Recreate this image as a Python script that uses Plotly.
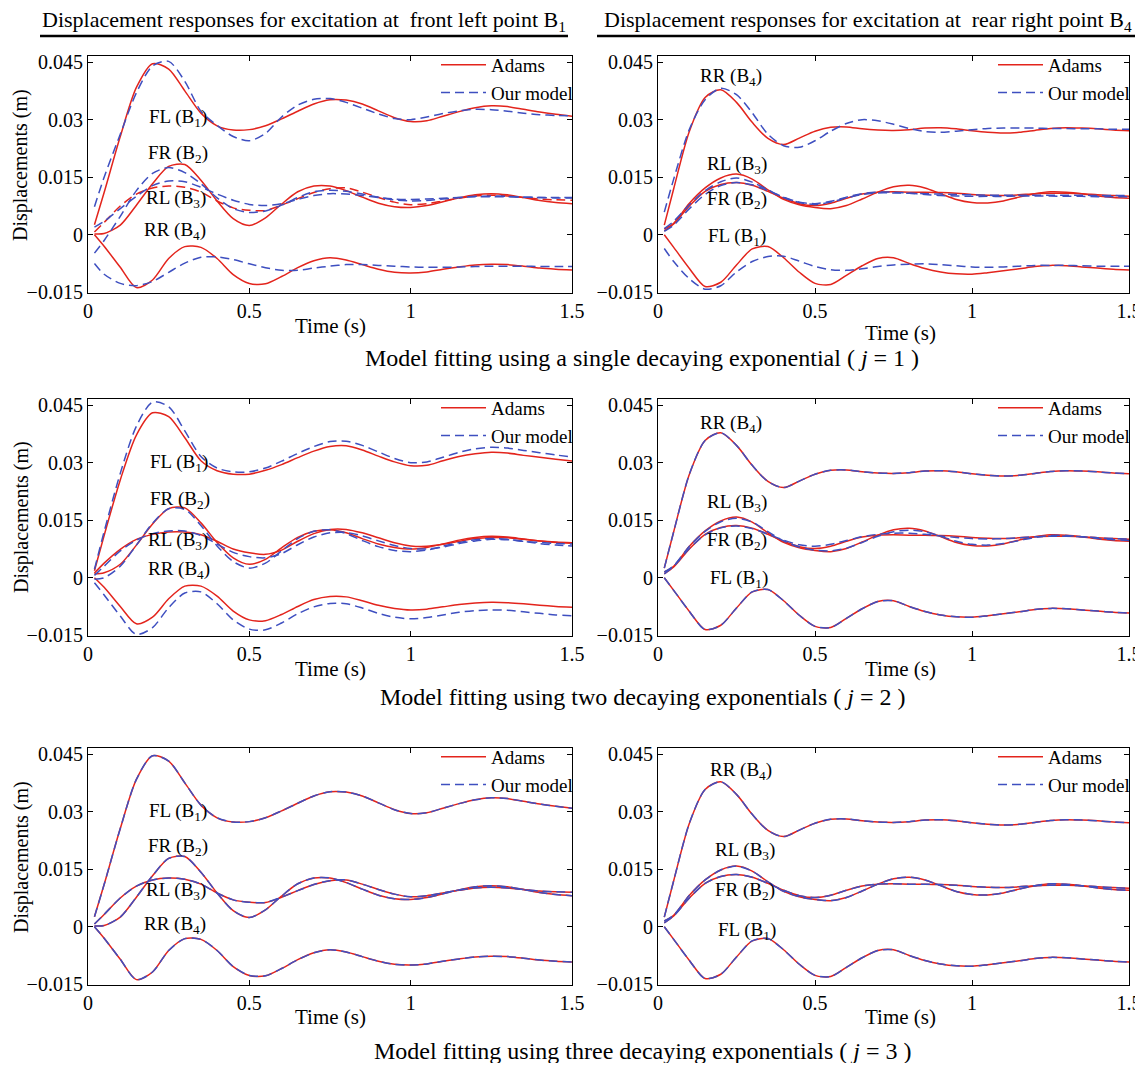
import plotly.graph_objects as go

# ---------------- data ----------------
T = [0.02, 0.05, 0.10, 0.15, 0.20, 0.25, 0.30, 0.35, 0.40, 0.45, 0.50,
     0.55, 0.60, 0.65, 0.70, 0.75, 0.80, 0.85, 0.90, 0.95, 1.00,
     1.05, 1.10, 1.15, 1.20, 1.25, 1.30, 1.35, 1.40, 1.45, 1.50]

# Adams, excitation at front-left point B1 (left column, j = 1 and j = 3)
ADAMS_L_FL = [0.0026, 0.0110, 0.0256, 0.0384, 0.0446, 0.0432, 0.0375, 0.0317, 0.0284, 0.0273, 0.0274,
              0.0284, 0.0302, 0.0322, 0.0341, 0.0352, 0.0351, 0.0341, 0.0323, 0.0305, 0.0295,
              0.0297, 0.0309, 0.0321, 0.0331, 0.0336, 0.0334, 0.0327, 0.0320, 0.0314, 0.0309]
ADAMS_L_FR = [0.0002, 0.0003, 0.0025, 0.0077, 0.0133, 0.0178, 0.0183, 0.0142, 0.0088, 0.0042, 0.0024,
              0.0044, 0.0080, 0.0112, 0.0127, 0.0127, 0.0115, 0.0098, 0.0082, 0.0073, 0.0071,
              0.0076, 0.0086, 0.0096, 0.0104, 0.0107, 0.0104, 0.0097, 0.0089, 0.0084, 0.0081]
ADAMS_L_RL = [0.0007, 0.0032, 0.0075, 0.0106, 0.0122, 0.0127, 0.0124, 0.0111, 0.0088, 0.0070, 0.0064,
              0.0063, 0.0077, 0.0094, 0.0110, 0.0120, 0.0122, 0.0111, 0.0097, 0.0085, 0.0078,
              0.0081, 0.0088, 0.0095, 0.0101, 0.0103, 0.0101, 0.0097, 0.0093, 0.0091, 0.0090]
ADAMS_L_RR = [0.0000, -0.0030, -0.0085, -0.0138, -0.0118, -0.0062, -0.0031, -0.0033, -0.0062, -0.0104, -0.0127,
              -0.0128, -0.0109, -0.0086, -0.0068, -0.0060, -0.0066, -0.0078, -0.0090, -0.0098, -0.0100,
              -0.0097, -0.0090, -0.0084, -0.0079, -0.0077, -0.0078, -0.0082, -0.0087, -0.0090, -0.0092]

# Our model, left column, j = 1
M1_L_FL = [0.0073, 0.0150, 0.0262, 0.0370, 0.0440, 0.0452, 0.0400, 0.0322, 0.0285, 0.0256, 0.0245,
           0.0264, 0.0307, 0.0338, 0.0353, 0.0355, 0.0345, 0.0330, 0.0315, 0.0303, 0.0300,
           0.0307, 0.0316, 0.0323, 0.0327, 0.0326, 0.0322, 0.0317, 0.0313, 0.0311, 0.0310]
M1_L_FR = [-0.0048, -0.0015, 0.0048, 0.0115, 0.0160, 0.0175, 0.0162, 0.0133, 0.0096, 0.0068, 0.0058,
           0.0062, 0.0077, 0.0097, 0.0112, 0.0116, 0.0113, 0.0106, 0.0098, 0.0091, 0.0088,
           0.0089, 0.0093, 0.0097, 0.0100, 0.0101, 0.0100, 0.0098, 0.0097, 0.0096, 0.0096]
M1_L_RL = [0.0020, 0.0035, 0.0068, 0.0100, 0.0128, 0.0140, 0.0138, 0.0124, 0.0106, 0.0090, 0.0079,
           0.0076, 0.0081, 0.0092, 0.0102, 0.0107, 0.0106, 0.0102, 0.0097, 0.0093, 0.0092,
           0.0093, 0.0095, 0.0097, 0.0099, 0.0099, 0.0099, 0.0098, 0.0097, 0.0097, 0.0097]
M1_L_RR = [-0.0075, -0.0103, -0.0127, -0.0133, -0.0122, -0.0098, -0.0074, -0.0059, -0.0058, -0.0065, -0.0076,
           -0.0086, -0.0093, -0.0093, -0.0087, -0.0082, -0.0078, -0.0078, -0.0080, -0.0082, -0.0084,
           -0.0085, -0.0085, -0.0084, -0.0083, -0.0082, -0.0082, -0.0082, -0.0083, -0.0083, -0.0083]

# Adams as drawn in the j = 2 left panel
A2_L_FL = [0.0018, 0.0110, 0.0255, 0.0372, 0.0430, 0.0420, 0.0365, 0.0305, 0.0279, 0.0270, 0.0270,
           0.0280, 0.0295, 0.0313, 0.0330, 0.0342, 0.0344, 0.0333, 0.0317, 0.0302, 0.0292,
           0.0293, 0.0305, 0.0316, 0.0323, 0.0327, 0.0325, 0.0319, 0.0314, 0.0309, 0.0304]
A2_L_FR = [0.0010, 0.0013, 0.0035, 0.0085, 0.0140, 0.0180, 0.0182, 0.0143, 0.0092, 0.0052, 0.0035,
           0.0048, 0.0078, 0.0105, 0.0121, 0.0125, 0.0117, 0.0102, 0.0088, 0.0079, 0.0075,
           0.0079, 0.0088, 0.0098, 0.0105, 0.0108, 0.0106, 0.0101, 0.0096, 0.0092, 0.0090]
A2_L_RL = [0.0012, 0.0038, 0.0074, 0.0100, 0.0113, 0.0119, 0.0119, 0.0112, 0.0095, 0.0075, 0.0065,
           0.0061, 0.0072, 0.0095, 0.0115, 0.0126, 0.0126, 0.0117, 0.0104, 0.0091, 0.0083,
           0.0082, 0.0087, 0.0095, 0.0102, 0.0105, 0.0104, 0.0100, 0.0096, 0.0093, 0.0091]
A2_L_RR = [0.0000, -0.0025, -0.0075, -0.0120, -0.0103, -0.0055, -0.0022, -0.0022, -0.0048, -0.0087, -0.0110,
           -0.0112, -0.0096, -0.0075, -0.0057, -0.0049, -0.0050, -0.0060, -0.0072, -0.0080, -0.0084,
           -0.0082, -0.0076, -0.0070, -0.0066, -0.0064, -0.0065, -0.0068, -0.0072, -0.0075, -0.0077]

# Our model, left column, j = 2
M2_L_FL = [0.0022, 0.0120, 0.0272, 0.0395, 0.0458, 0.0446, 0.0383, 0.0316, 0.0286, 0.0276, 0.0276,
           0.0286, 0.0304, 0.0324, 0.0342, 0.0355, 0.0356, 0.0345, 0.0328, 0.0311, 0.0300,
           0.0302, 0.0314, 0.0327, 0.0336, 0.0340, 0.0338, 0.0332, 0.0326, 0.0320, 0.0315]
M2_L_FR = [-0.0004, 0.0000, 0.0030, 0.0085, 0.0142, 0.0180, 0.0178, 0.0136, 0.0083, 0.0042, 0.0025,
           0.0038, 0.0070, 0.0102, 0.0121, 0.0125, 0.0115, 0.0097, 0.0081, 0.0071, 0.0068,
           0.0072, 0.0082, 0.0092, 0.0099, 0.0102, 0.0100, 0.0095, 0.0089, 0.0085, 0.0083]
M2_L_RL = [0.0006, 0.0030, 0.0070, 0.0098, 0.0115, 0.0122, 0.0122, 0.0110, 0.0088, 0.0066, 0.0055,
           0.0052, 0.0063, 0.0086, 0.0106, 0.0117, 0.0118, 0.0109, 0.0096, 0.0084, 0.0076,
           0.0075, 0.0080, 0.0089, 0.0096, 0.0100, 0.0099, 0.0095, 0.0092, 0.0089, 0.0088]
M2_L_RR = [-0.0013, -0.0045, -0.0100, -0.0148, -0.0130, -0.0078, -0.0040, -0.0037, -0.0068, -0.0110, -0.0134,
           -0.0136, -0.0118, -0.0094, -0.0076, -0.0067, -0.0068, -0.0079, -0.0093, -0.0103, -0.0107,
           -0.0104, -0.0097, -0.0090, -0.0086, -0.0084, -0.0085, -0.0089, -0.0093, -0.0097, -0.0099]

# Adams, excitation at rear-right point B4 (right column)
ADAMS_R_RR = [0.0025, 0.0120, 0.0270, 0.0358, 0.0378, 0.0345, 0.0293, 0.0251, 0.0235, 0.0252, 0.0270,
              0.0280, 0.0281, 0.0276, 0.0273, 0.0272, 0.0274, 0.0278, 0.0279, 0.0276, 0.0271,
              0.0267, 0.0265, 0.0267, 0.0272, 0.0277, 0.0279, 0.0278, 0.0276, 0.0273, 0.0271]
ADAMS_R_RL = [0.0015, 0.0030, 0.0082, 0.0122, 0.0148, 0.0158, 0.0145, 0.0117, 0.0092, 0.0078, 0.0071,
              0.0068, 0.0076, 0.0093, 0.0111, 0.0125, 0.0129, 0.0122, 0.0107, 0.0092, 0.0084,
              0.0083, 0.0088, 0.0098, 0.0107, 0.0112, 0.0111, 0.0107, 0.0101, 0.0097, 0.0095]
ADAMS_R_FR = [0.0010, 0.0028, 0.0075, 0.0113, 0.0131, 0.0136, 0.0129, 0.0113, 0.0095, 0.0081, 0.0076,
              0.0082, 0.0095, 0.0106, 0.0111, 0.0112, 0.0111, 0.0111, 0.0110, 0.0108, 0.0105,
              0.0103, 0.0102, 0.0104, 0.0107, 0.0108, 0.0108, 0.0107, 0.0104, 0.0102, 0.0100]
ADAMS_R_FL = [0.0000, -0.0033, -0.0088, -0.0135, -0.0124, -0.0079, -0.0037, -0.0031, -0.0060, -0.0098, -0.0127,
              -0.0130, -0.0106, -0.0081, -0.0062, -0.0060, -0.0075, -0.0088, -0.0097, -0.0102, -0.0103,
              -0.0099, -0.0094, -0.0089, -0.0083, -0.0080, -0.0081, -0.0084, -0.0087, -0.0090, -0.0092]

# Our model, right column, j = 1
M1_R_RR = [0.0059, 0.0145, 0.0275, 0.0352, 0.0382, 0.0365, 0.0318, 0.0262, 0.0232, 0.0228, 0.0245,
           0.0270, 0.0290, 0.0300, 0.0297, 0.0288, 0.0277, 0.0269, 0.0267, 0.0270, 0.0274,
           0.0277, 0.0278, 0.0278, 0.0278, 0.0277, 0.0277, 0.0276, 0.0276, 0.0275, 0.0275]
M1_R_RL = [0.0016, 0.0035, 0.0078, 0.0115, 0.0138, 0.0148, 0.0137, 0.0117, 0.0097, 0.0084, 0.0079,
           0.0085, 0.0096, 0.0105, 0.0109, 0.0109, 0.0108, 0.0107, 0.0106, 0.0105, 0.0104,
           0.0103, 0.0103, 0.0103, 0.0103, 0.0103, 0.0103, 0.0103, 0.0102, 0.0102, 0.0102]
M1_R_FR = [0.0009, 0.0025, 0.0068, 0.0105, 0.0128, 0.0136, 0.0130, 0.0115, 0.0098, 0.0085, 0.0081,
           0.0087, 0.0098, 0.0107, 0.0111, 0.0111, 0.0108, 0.0105, 0.0102, 0.0101, 0.0100,
           0.0100, 0.0100, 0.0101, 0.0101, 0.0101, 0.0100, 0.0100, 0.0099, 0.0099, 0.0099]
M1_R_FL = [-0.0036, -0.0070, -0.0115, -0.0142, -0.0133, -0.0097, -0.0070, -0.0057, -0.0056, -0.0069, -0.0083,
           -0.0091, -0.0093, -0.0089, -0.0083, -0.0079, -0.0077, -0.0076, -0.0078, -0.0081, -0.0084,
           -0.0085, -0.0084, -0.0082, -0.0080, -0.0080, -0.0080, -0.0081, -0.0082, -0.0082, -0.0082]

# Our model, right column, j = 2 (RR and FL coincide with Adams)
M2_R_RL = [0.0015, 0.0031, 0.0082, 0.0121, 0.0146, 0.0155, 0.0145, 0.0120, 0.0096, 0.0080, 0.0072,
           0.0070, 0.0077, 0.0092, 0.0108, 0.0120, 0.0124, 0.0120, 0.0108, 0.0095, 0.0087,
           0.0085, 0.0089, 0.0097, 0.0105, 0.0110, 0.0110, 0.0107, 0.0102, 0.0099, 0.0097]
M2_R_FR = [0.0010, 0.0030, 0.0076, 0.0112, 0.0130, 0.0135, 0.0128, 0.0114, 0.0098, 0.0086, 0.0082,
           0.0087, 0.0097, 0.0107, 0.0113, 0.0116, 0.0116, 0.0113, 0.0109, 0.0105, 0.0102,
           0.0101, 0.0102, 0.0104, 0.0107, 0.0108, 0.0108, 0.0107, 0.0104, 0.0102, 0.0101]

X_TICKS = [0, 0.5, 1, 1.5]
X_TICKTEXT = ["0", "0.5", "1", "1.5"]
Y_TICKS = [-0.015, 0, 0.015, 0.03, 0.045]
Y_TICKTEXT = ["\u22120.015", "0", "0.015", "0.03", "0.045"]

HEADER_L = "Displacement responses for excitation at&nbsp; front left point B<sub>1</sub>"
HEADER_R = "Displacement responses for excitation at&nbsp; rear right point B<sub>4</sub>"
CAPTIONS = ["Model fitting using a single decaying exponential ( <i>j</i> = 1 )",
            "Model fitting using two decaying exponentials ( <i>j</i> = 2 )",
            "Model fitting using three decaying exponentials ( <i>j</i> = 3 )"]

LBL = {"FL": "FL (B<sub>1</sub>)", "FR": "FR (B<sub>2</sub>)",
       "RL": "RL (B<sub>3</sub>)", "RR": "RR (B<sub>4</sub>)"}

# ---------------- styling / layout ----------------
FONT = "Liberation Serif"
RED = "#E3241C"
BLUE = "#3E4FC0"
DASH = "9px,5px"
OFF = 8                       # page body margin of the browser
W, H = 1143 - OFF, 1071 - 16  # figure size so that the page fits the window


def px(xp):
    return (xp - OFF) / W


def py(yp):
    return 1 - (yp - OFF) / H


XBOX = {"L": (88, 572), "R": (658, 1129)}
YBOX = {1: (56, 293), 2: (399, 636), 3: (748, 985)}

panels = [
    dict(row=1, col="L",
         adams=[("FL", ADAMS_L_FL, "solid"), ("FR", ADAMS_L_FR, "solid"),
                ("RL", ADAMS_L_RL, DASH), ("RR", ADAMS_L_RR, "solid")],
         model=[M1_L_FL, M1_L_FR, M1_L_RL, M1_L_RR],
         labels=[("FL", 0.279, 0.0305), ("FR", 0.279, 0.0210), ("RL", 0.274, 0.0092), ("RR", 0.271, 0.0010)]),
    dict(row=1, col="R",
         adams=[("RR", ADAMS_R_RR, "solid"), ("RL", ADAMS_R_RL, "solid"),
                ("FR", ADAMS_R_FR, "solid"), ("FL", ADAMS_R_FL, "solid")],
         model=[M1_R_RR, M1_R_RL, M1_R_FR, M1_R_FL],
         labels=[("RR", 0.234, 0.0412), ("RL", 0.252, 0.0181), ("FR", 0.252, 0.0091), ("FL", 0.252, -0.0006)]),
    dict(row=2, col="L",
         adams=[("FL", A2_L_FL, "solid"), ("FR", A2_L_FR, "solid"),
                ("RL", A2_L_RL, "solid"), ("RR", A2_L_RR, "solid")],
         model=[M2_L_FL, M2_L_FR, M2_L_RL, M2_L_RR],
         labels=[("FL", 0.282, 0.0299), ("FR", 0.285, 0.0202), ("RL", 0.280, 0.0096), ("RR", 0.282, 0.0020)]),
    dict(row=2, col="R",
         adams=[("RR", ADAMS_R_RR, "solid"), ("RL", ADAMS_R_RL, "solid"),
                ("FR", ADAMS_R_FR, "solid"), ("FL", ADAMS_R_FL, "solid")],
         model=[ADAMS_R_RR, M2_R_RL, M2_R_FR, ADAMS_R_FL],
         labels=[("RR", 0.234, 0.0400), ("RL", 0.251, 0.0195), ("FR", 0.251, 0.0097), ("FL", 0.257, -0.0003)]),
    dict(row=3, col="L",
         adams=[("FL", ADAMS_L_FL, "solid"), ("FR", ADAMS_L_FR, "solid"),
                ("RL", ADAMS_L_RL, "solid"), ("RR", ADAMS_L_RR, "solid")],
         model=[ADAMS_L_FL, ADAMS_L_FR, ADAMS_L_RL, ADAMS_L_RR],
         labels=[("FL", 0.278, 0.0300), ("FR", 0.278, 0.0208), ("RL", 0.274, 0.0094), ("RR", 0.270, 0.0004)]),
    dict(row=3, col="R",
         adams=[("RR", ADAMS_R_RR, "solid"), ("RL", ADAMS_R_RL, "solid"),
                ("FR", ADAMS_R_FR, "solid"), ("FL", ADAMS_R_FL, "solid")],
         model=[ADAMS_R_RR, ADAMS_R_RL, ADAMS_R_FR, ADAMS_R_FL],
         labels=[("RR", 0.265, 0.0405), ("RL", 0.276, 0.0197), ("FR", 0.276, 0.0094), ("FL", 0.285, -0.0010)]),
]

fig = go.Figure()
layout = dict(width=W, height=H, margin=dict(l=0, r=0, t=0, b=0, autoexpand=False),
              paper_bgcolor="white", plot_bgcolor="white",
              font=dict(family=FONT, size=18, color="black"))
annotations = []
shapes = []

axis_common = dict(showline=True, linecolor="black", linewidth=1.2, mirror="allticks",
                   ticks="inside", ticklen=5, tickwidth=1, tickcolor="black",
                   showgrid=False, zeroline=False, automargin=False,
                   tickfont=dict(family=FONT, size=20, color="black"))

for k, p in enumerate(panels, start=1):
    xs = "x" if k == 1 else f"x{k}"
    ys = "y" if k == 1 else f"y{k}"
    lg = "legend" if k == 1 else f"legend{k}"
    for i, (key, vals, dash) in enumerate(p["adams"]):
        fig.add_trace(go.Scatter(x=T, y=vals, mode="lines", xaxis=xs, yaxis=ys,
                                 line=dict(color=RED, width=1.5, dash=dash, shape="spline", smoothing=0.8),
                                 name="Adams", legend=lg, showlegend=(i == 0), hoverinfo="skip"))
    for i, vals in enumerate(p["model"]):
        fig.add_trace(go.Scatter(x=T, y=vals, mode="lines", xaxis=xs, yaxis=ys,
                                 line=dict(color=BLUE, width=1.5, dash=DASH, shape="spline", smoothing=0.8),
                                 name="Our model", legend=lg, showlegend=(i == 0), hoverinfo="skip"))
    x0, x1 = XBOX[p["col"]]
    y0, y1 = YBOX[p["row"]]
    layout["xaxis" if k == 1 else f"xaxis{k}"] = dict(
        axis_common, domain=[px(x0), px(x1)], range=[0, 1.5],
        tickvals=X_TICKS, ticktext=X_TICKTEXT, anchor=ys)
    layout["yaxis" if k == 1 else f"yaxis{k}"] = dict(
        axis_common, domain=[py(y1), py(y0)], range=[-0.0152, 0.0466],
        tickvals=Y_TICKS, ticktext=Y_TICKTEXT, anchor=xs)
    layout[lg] = dict(x=px(x1 + 6), y=py(y0 - 10), xanchor="right", yanchor="top",
                      bgcolor="rgba(0,0,0,0)", borderwidth=0,
                      font=dict(family=FONT, size=19, color="black"),
                      tracegroupgap=0, itemwidth=45)
    for key, tx, ty in p["labels"]:
        annotations.append(dict(x=tx, y=ty, xref=xs, yref=ys, text=LBL[key], showarrow=False,
                                xanchor="center", yanchor="middle",
                                font=dict(family=FONT, size=19, color="black")))

# axis titles
for yc in (165, 517, 857):
    annotations.append(dict(x=px(21), y=py(yc), xref="paper", yref="paper",
                            text="Displacements (m)", textangle=-90, showarrow=False,
                            xanchor="center", yanchor="middle",
                            font=dict(family=FONT, size=20, color="black")))
for xc, yc in [(330, 326), (900, 333), (330, 669), (900, 669), (330, 1017), (900, 1017)]:
    annotations.append(dict(x=px(xc), y=py(yc), xref="paper", yref="paper",
                            text="Time (s)", showarrow=False, xanchor="center", yanchor="middle",
                            font=dict(family=FONT, size=21, color="black")))
# row captions
for yc, cap in zip([358, 697, 1051], CAPTIONS):
    annotations.append(dict(x=px(642), y=py(yc), xref="paper", yref="paper",
                            text=cap, showarrow=False, xanchor="center", yanchor="middle",
                            font=dict(family=FONT, size=24, color="black")))
# column headers with underline
annotations.append(dict(x=px(304), y=py(21), xref="paper", yref="paper", text=HEADER_L,
                        showarrow=False, xanchor="center", yanchor="middle",
                        font=dict(family=FONT, size=22, color="black")))
annotations.append(dict(x=px(868), y=py(21), xref="paper", yref="paper", text=HEADER_R,
                        showarrow=False, xanchor="center", yanchor="middle",
                        font=dict(family=FONT, size=22, color="black")))
for xa, xb in [(40, 568), (597, 1141)]:
    shapes.append(dict(type="line", xref="paper", yref="paper", x0=px(xa), x1=px(xb),
                       y0=py(36), y1=py(36), line=dict(color="black", width=2.5)))

layout["annotations"] = annotations
layout["shapes"] = shapes
fig.update_layout(**layout)
fig.write_html("out.html")
